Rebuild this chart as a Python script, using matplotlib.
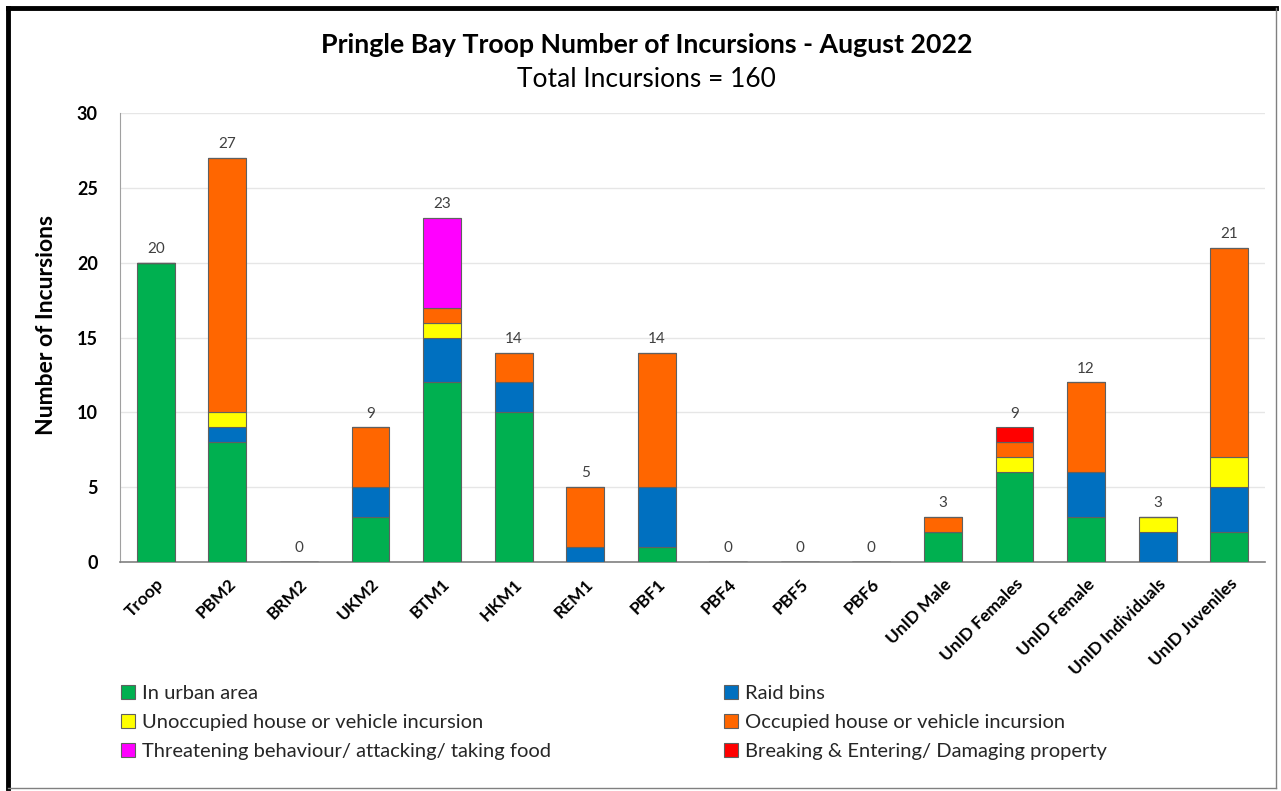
import numpy as np
import matplotlib
matplotlib.use('Agg')
import matplotlib.pyplot as plt
from matplotlib.lines import Line2D
from matplotlib.patches import Patch

plt.rcParams['font.family'] = ['Lato', 'DejaVu Sans']

# Data
monkeys = ['Troop', 'PBM2', 'BRM2', 'UKM2', 'BTM1', 'HKM1', 'REM1', 'PBF1',
           'PBF4', 'PBF5', 'PBF6', 'UnID Male', 'UnID Females', 'UnID Female',
           'UnID Individuals', 'UnID Juveniles']
urban       = [20, 8, 0, 3, 12, 10, 0, 1, 0, 0, 0, 2, 6, 3, 0, 2]
raid_bins   = [0, 1, 0, 2, 3, 2, 1, 4, 0, 0, 0, 0, 0, 3, 2, 3]
unoccupied  = [0, 1, 0, 0, 1, 0, 0, 0, 0, 0, 0, 0, 1, 0, 1, 2]
occupied    = [0, 17, 0, 4, 1, 2, 4, 9, 0, 0, 0, 1, 1, 6, 0, 14]
threatening = [0, 0, 0, 0, 6, 0, 0, 0, 0, 0, 0, 0, 0, 0, 0, 0]
breaking    = [0, 0, 0, 0, 0, 0, 0, 0, 0, 0, 0, 0, 1, 0, 0, 0]

series = [
    ('In urban area', urban, '#00B050'),
    ('Raid bins', raid_bins, '#0070C0'),
    ('Unoccupied house or vehicle incursion', unoccupied, '#FFFF00'),
    ('Occupied house or vehicle incursion', occupied, '#FF6600'),
    ('Threatening behaviour/ attacking/ taking food', threatening, '#FF00FF'),
    ('Breaking & Entering/ Damaging property', breaking, '#FF0000'),
]

fig = plt.figure(figsize=(12.81, 7.91), dpi=100)
ax = fig.add_axes([0.0937, 0.2895, 0.8938, 0.5675])

x = np.arange(len(monkeys))
bottom = np.zeros(len(monkeys))
handles = []
for name, vals, col in series:
    vals = np.array(vals, dtype=float)
    ax.bar(x, vals, 0.53, bottom=bottom, color=col, edgecolor='#606060',
           linewidth=0.8, zorder=3)
    bottom += vals
    handles.append(Patch(facecolor=col, edgecolor='#606060', linewidth=0.8, label=name))

# totals above each bar
for xi, tot in zip(x, bottom):
    ax.text(xi, tot + 0.45, '%d' % tot, ha='center', va='bottom',
            fontsize=11, color='#404040')

ax.set_xlim(-0.5, len(monkeys) - 0.5)
ax.set_ylim(0, 30)
ax.set_yticks(range(0, 31, 5))
ax.yaxis.grid(True, color='#E6E6E6', linewidth=1, zorder=0)
ax.set_axisbelow(True)
ax.tick_params(length=0)
ax.tick_params(axis='y', pad=16, labelsize=13)
for spine in ['top', 'right']:
    ax.spines[spine].set_visible(False)
ax.spines['left'].set_color('#A0A0A0')
ax.spines['bottom'].set_color('#808080')
ax.spines['bottom'].set_linewidth(1.2)
for lab in ax.get_yticklabels():
    lab.set_fontweight('bold')

ax.set_xticks(x)
ax.set_xticklabels(monkeys, rotation=45, ha='right', rotation_mode='anchor',
                   fontsize=12.5, fontweight='bold')
ax.tick_params(axis='x', pad=10)

ax.set_ylabel('Number of Incursions', fontsize=16.5, fontweight='bold')
ax.yaxis.set_label_coords(-0.055, 0.528)

fig.text(0.505, 0.943, 'Pringle Bay Troop Number of Incursions - August 2022',
         ha='center', va='center', fontsize=19.3, fontweight='bold')
fig.text(0.505, 0.899, 'Total Incursions = 160', ha='center', va='center',
         fontsize=19)

# legend laid out row by row like the original
order = [0, 2, 4, 1, 3, 5]
leg = fig.legend([handles[i] for i in order], [series[i][0] for i in order],
                 ncol=2, loc='upper left', bbox_to_anchor=(0.088, 0.144),
                 frameon=False, fontsize=14.5, handlelength=0.7, handleheight=0.7,
                 handletextpad=0.35, columnspacing=8.6, labelspacing=0.59,
                 borderaxespad=0)
for t in leg.get_texts():
    t.set_color('#262626')

# picture border: heavy left/top, thin grey right/bottom
W, H = 1281.0, 791.0
fig.add_artist(Line2D([8 / W, 8 / W], [1 - 8 / H, 1 - 788 / H], color='black',
                      linewidth=3.5, transform=fig.transFigure))
fig.add_artist(Line2D([8 / W, 1276 / W], [1 - 8 / H, 1 - 8 / H], color='black',
                      linewidth=3.5, transform=fig.transFigure))
fig.add_artist(Line2D([1276 / W, 1276 / W], [1 - 8 / H, 1 - 788 / H], color='#808080',
                      linewidth=1, transform=fig.transFigure))
fig.add_artist(Line2D([8 / W, 1276 / W], [1 - 788 / H, 1 - 788 / H], color='#808080',
                      linewidth=1, transform=fig.transFigure))

fig.savefig('out.png', dpi=100)
